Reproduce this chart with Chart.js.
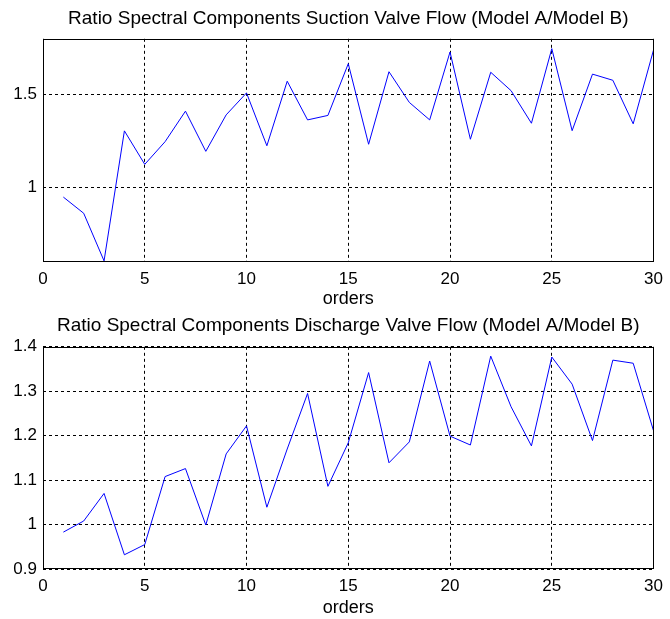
<!DOCTYPE html>
<html>
<head>
<meta charset="utf-8">
<script src="https://cdn.jsdelivr.net/npm/chart.js@4/dist/chart.umd.min.js"></script>
<style>
  body { margin: 0; background: #fff; }
  #top { position: absolute; left: 0; top: 0; width: 670px; height: 310px; }
  #bottom { position: absolute; left: 0; top: 310px; width: 670px; height: 309px; }
</style>
</head>
<body>
<div id="top"><canvas id="suctionchart"></canvas></div>
<div id="bottom"><canvas id="dischargechart"></canvas></div>
<script>
// orders 1..30
const orders = [1, 2, 3, 4, 5, 6, 7, 8, 9, 10, 11, 12, 13, 14, 15,
  16, 17, 18, 19, 20, 21, 22, 23, 24, 25, 26, 27, 28, 29, 30];

const suctionRatio = [0.949, 0.862, 0.606, 1.305, 1.125, 1.247, 1.411, 1.195, 1.391, 1.509,
  1.225, 1.572, 1.364, 1.388, 1.666, 1.233, 1.623, 1.458, 1.364, 1.729,
  1.26, 1.62, 1.521, 1.346, 1.747, 1.306, 1.61, 1.577, 1.343, 1.74];

const dischargeRatio = [0.983, 1.008, 1.07, 0.932, 0.955, 1.108, 1.126, 0.999, 1.159, 1.222,
  1.039, 1.17, 1.295, 1.086, 1.184, 1.342, 1.139, 1.186, 1.368, 1.199,
  1.179, 1.379, 1.265, 1.177, 1.377, 1.316, 1.189, 1.37, 1.363, 1.211];

const xTicks = [0, 5, 10, 15, 20, 25, 30];
const suctionYTicks = [1, 1.5];
const dischargeYTicks = [0.9, 1, 1.1, 1.2, 1.3, 1.4];

const fontFamily = "Arial, 'Liberation Sans', sans-serif";

// solid box around the axes, like matlab
const boxPlugin = {
  id: "box",
  afterDraw(chart) {
    const a = chart.chartArea;
    const ctx = chart.ctx;
    ctx.save();
    ctx.strokeStyle = "#000";
    ctx.lineWidth = 1;
    ctx.setLineDash([]);
    const l = Math.round(a.left) + 0.5;
    const t = Math.round(a.top) + 0.5;
    const r = Math.round(a.right) - 0.5;
    const b = Math.round(a.bottom) - 0.5;
    ctx.strokeRect(l, t, r - l, b - t);
    ctx.restore();
  },
};

function makeChart(id, title, values, yMin, yMax, yTicks, titlePad, xHeight) {
  return new Chart(document.getElementById(id), {
    type: "line",
    data: {
      datasets: [
        {
          data: orders.map((o, i) => ({ x: o, y: values[i] })),
          borderColor: "#0000ff",
          borderWidth: 1,
          pointRadius: 0,
          tension: 0,
          fill: false,
        },
      ],
    },
    options: {
      responsive: true,
      maintainAspectRatio: false,
      animation: false,
      events: [],
      layout: { padding: { left: 0, right: 9, top: 0, bottom: 0 } },
      plugins: {
        legend: { display: false },
        tooltip: { enabled: false },
        title: {
          display: true,
          text: title,
          fullSize: false,
          color: "#000",
          font: { family: fontFamily, size: 19, weight: "normal" },
          padding: titlePad,
        },
      },
      scales: {
        x: {
          type: "linear",
          min: 0,
          max: 30,
          afterBuildTicks: (scale) => {
            scale.ticks = xTicks.map((v) => ({ value: v }));
          },
          afterFit: (scale) => {
            scale.height = xHeight;
          },
          grid: {
            color: "#000",
            lineWidth: 1,
            drawTicks: false,
          },
          border: { display: false, dash: [3, 3] },
          ticks: {
            color: "#000",
            padding: 7,
            maxRotation: 0,
            font: { family: fontFamily, size: 17 },
          },
          title: {
            display: true,
            text: "orders",
            color: "#000",
            padding: { top: 0, bottom: 0 },
            font: { family: fontFamily, size: 18 },
          },
        },
        y: {
          min: yMin,
          max: yMax,
          afterBuildTicks: (scale) => {
            scale.ticks = yTicks.map((v) => ({ value: v }));
          },
          afterFit: (scale) => {
            scale.width = 43;
          },
          grid: {
            color: "#000",
            lineWidth: 1,
            drawTicks: false,
          },
          border: { display: false, dash: [3, 3] },
          ticks: {
            color: "#000",
            padding: 6,
            font: { family: fontFamily, size: 17 },
            callback: (v) => String(+Number(v).toFixed(2)),
          },
        },
      },
    },
    plugins: [boxPlugin],
  });
}

let suctionchart = makeChart(
  "suctionchart",
  "Ratio Spectral Components Suction Valve Flow (Model A/Model B)",
  suctionRatio, 0.6, 1.8, suctionYTicks,
  { top: 7, bottom: 9 }, 48
);

let dischargechart = makeChart(
  "dischargechart",
  "Ratio Spectral Components Discharge Valve Flow (Model A/Model B)",
  dischargeRatio, 0.9, 1.4, dischargeYTicks,
  { top: 4, bottom: 10 }, 50
);
</script>
</body>
</html>
